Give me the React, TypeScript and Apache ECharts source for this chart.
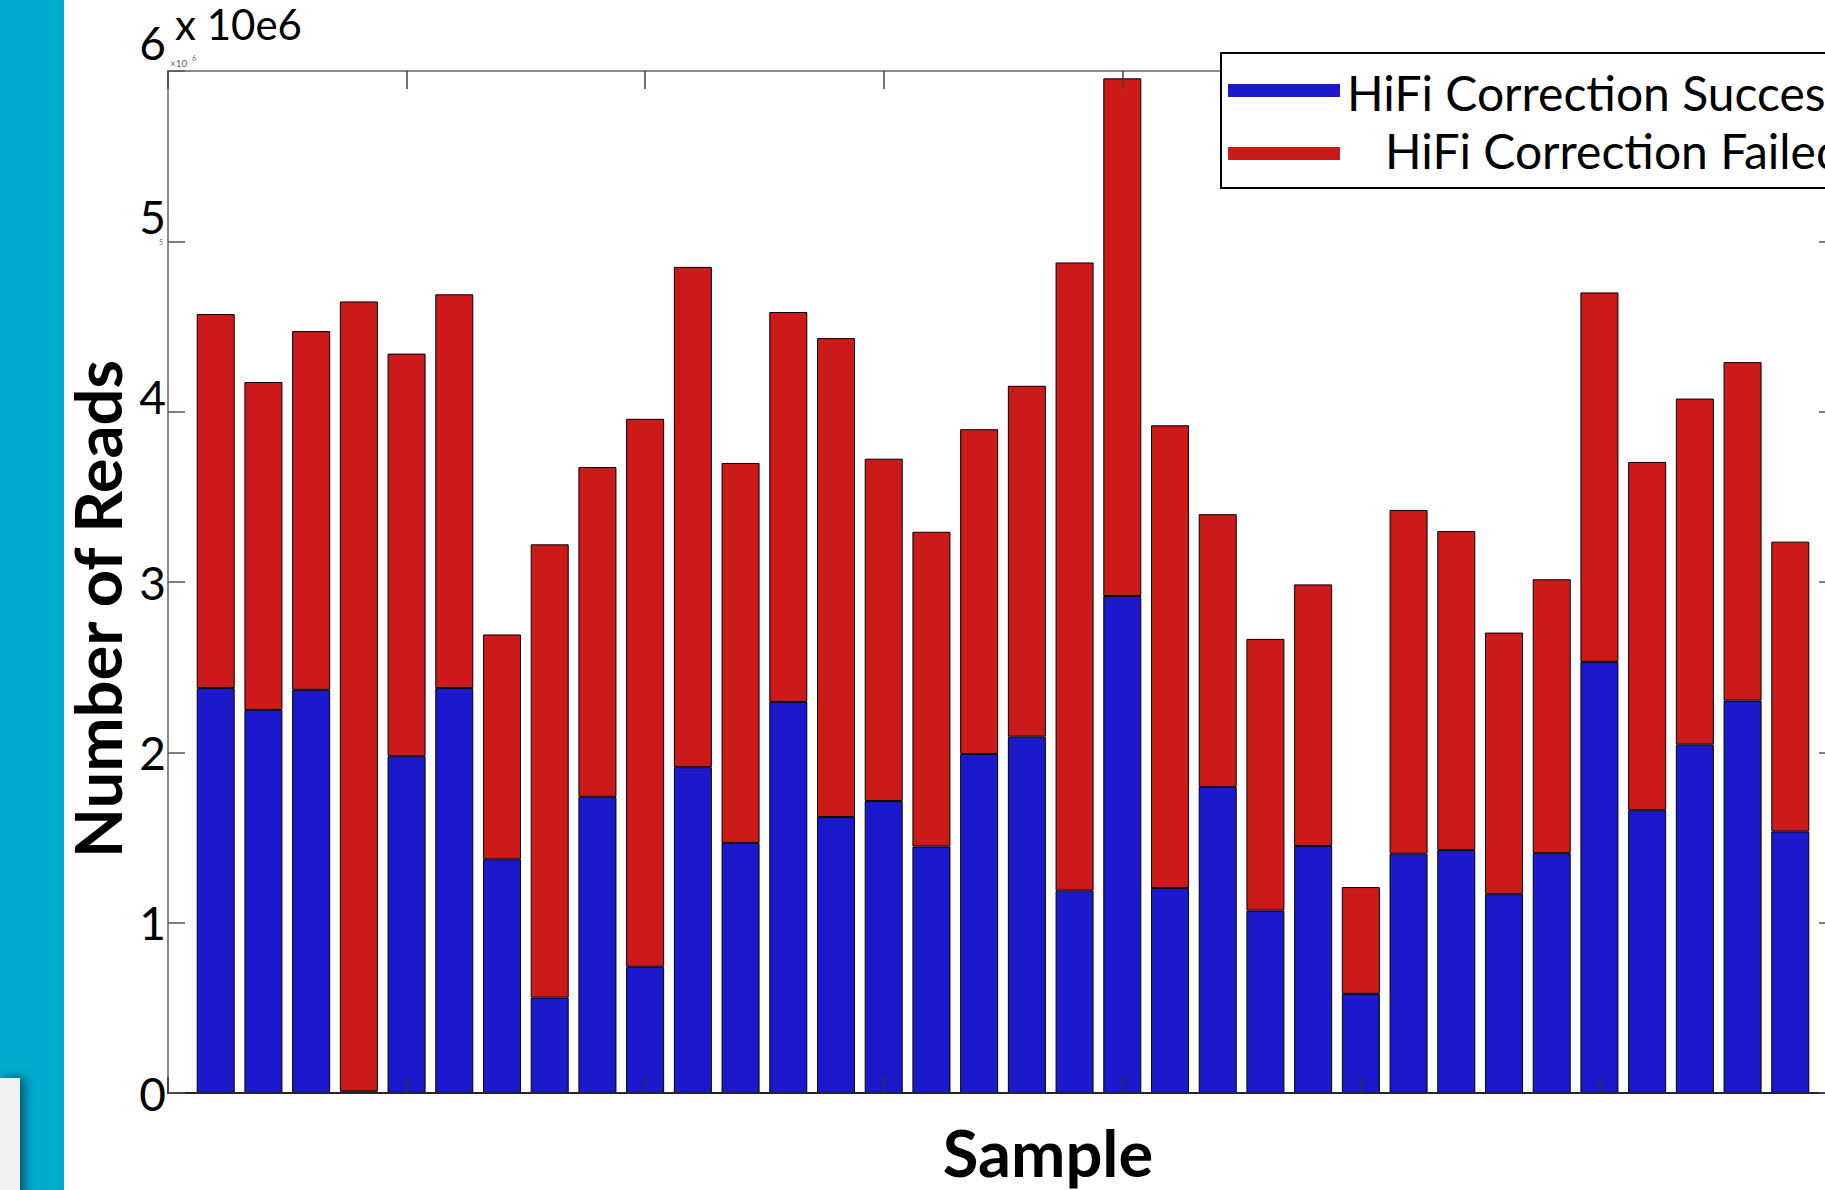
import React, { useEffect, useRef } from 'react';
import * as echarts from 'echarts';

// Sample index (x axis)
const samples = [1, 2, 3, 4, 5, 6, 7, 8, 9, 10, 11, 12, 13, 14, 15, 16, 17, 18, 19, 20, 21, 22, 23, 24, 25, 26, 27, 28, 29, 30, 31, 32, 33, 34];

// Reads whose HiFi correction succeeded
const successful = [
  2377000, 2248000, 2367000, 10000, 1977000, 2377000, 1372000, 560000, 1739000, 741000,
  1913000, 1468000, 2296000, 1620000, 1714000, 1447000, 1990000, 2092000, 1188000, 2918000,
  1203000, 1797000, 1071000, 1450000, 582000, 1405000, 1426000, 1167000, 1408000, 2531000,
  1660000, 2045000, 2304000, 1536000,
];

// Reads whose HiFi correction failed (stacked on top)
const failed = [
  2196000, 1926000, 2106000, 4637000, 2364000, 2312000, 1320000, 2661000, 1936000, 3217000,
  2937000, 2231000, 2289000, 2812000, 2010000, 1848000, 1907000, 2060000, 3688000, 3039000,
  2717000, 1601000, 1595000, 1536000, 627000, 2018000, 1873000, 1536000, 1608000, 2169000,
  2045000, 2032000, 1987000, 1701000,
];

const seriesNames = ['HiFi Correction Successful', 'HiFi Correction Failed'];
const xLimits = [0, 35];
const xTickEvery = 5;
const yMax = 6000000;
const yStep = 1000000;

const BLUE = '#1B19CB';
const RED = '#CC1A1B';

export default function App() {
  const ref = useRef<HTMLDivElement>(null);

  useEffect(() => {
    if (!ref.current) return;
    const chart = echarts.init(ref.current, null, { renderer: 'svg' });

    // axis positions xLimits[0] .. xLimits[1]; samples sit on their own index
    const categories = [String(xLimits[0]), ...samples.map(String), String(xLimits[1])];
    const pad = (arr: number[]) => ['-', ...arr, '-'];

    const labelFont = { fontFamily: 'Lato', fontSize: 46, color: '#000' };

    const xAxisBase = {
      type: 'category',
      data: categories,
      boundaryGap: false,
      z: 3,
      axisLabel: { show: false },
      splitLine: { show: false },
    };

    const option: any = {
      animation: false,
      backgroundColor: '#ffffff',
      grid: {
        left: 168,
        top: 71,
        right: 62,
        bottom: 97,
        containLabel: false,
        outerBoundsMode: 'none',
      },
      xAxis: [
        {
          ...xAxisBase,
          position: 'bottom',
          axisLine: { show: true, onZero: false, lineStyle: { color: '#262626', width: 2 } },
          axisTick: {
            show: true,
            inside: true,
            length: 16,
            interval: (i: number) => i % xTickEvery === 0,
            lineStyle: { color: '#333', width: 1.5 },
          },
        },
        {
          ...xAxisBase,
          position: 'top',
          axisLine: { show: true, onZero: false, lineStyle: { color: '#8a8a8a', width: 2 } },
          axisTick: {
            show: true,
            inside: true,
            length: 18,
            interval: (i: number) => i % xTickEvery === 0,
            lineStyle: { color: '#444', width: 1.5 },
          },
        },
      ],
      yAxis: [
        {
          type: 'value',
          position: 'left',
          min: 0,
          max: yMax,
          interval: yStep,
          z: 3,
          axisLine: { show: true, onZero: false, lineStyle: { color: '#8a8a8a', width: 2 } },
          axisTick: { show: true, inside: true, length: 17, lineStyle: { color: '#555', width: 1.5 } },
          splitLine: { show: false },
          axisLabel: {
            margin: 2,
            ...labelFont,
            formatter: (v: number) => {
              const n = Math.round(v / yStep);
              const key = n === 6 ? 'top' : n === 5 ? 'hi' : n === 4 ? 'mid' : 'n';
              return `{${key}|${n}}`;
            },
            rich: {
              top: { ...labelFont, padding: [0, 0, 58, 0] },
              hi: { ...labelFont, padding: [0, 0, 50, 0] },
              mid: { ...labelFont, padding: [0, 0, 30, 0] },
              n: { ...labelFont },
            },
          },
        },
        {
          type: 'value',
          position: 'right',
          min: 0,
          max: yMax,
          interval: yStep,
          z: 3,
          axisLine: { show: true, onZero: false, lineStyle: { color: '#8a8a8a', width: 2 } },
          axisTick: { show: true, inside: true, length: 19, lineStyle: { color: '#555', width: 1.5 } },
          axisLabel: { show: false },
          splitLine: { show: false },
        },
      ],
      series: [
        {
          name: seriesNames[0],
          type: 'bar',
          stack: 'reads',
          xAxisIndex: 0,
          yAxisIndex: 0,
          barWidth: 38,
          itemStyle: { color: BLUE, borderColor: '#000', borderWidth: 1 },
          data: pad(successful),
        },
        {
          name: seriesNames[1],
          type: 'bar',
          stack: 'reads',
          xAxisIndex: 0,
          yAxisIndex: 0,
          barWidth: 38,
          itemStyle: { color: RED, borderColor: '#000', borderWidth: 1 },
          data: pad(failed),
        },
      ],
      graphic: [
        { type: 'rect', z: 1, shape: { x: 0, y: 0, width: 64, height: 1190 }, style: { fill: '#00ABCD' } },
        {
          type: 'rect',
          z: 2,
          shape: { x: 0, y: 1078, width: 20, height: 130 },
          style: { fill: '#F2F2F2', shadowBlur: 12, shadowColor: 'rgba(0,0,0,0.55)', shadowOffsetX: 4 },
        },
        {
          type: 'text',
          z: 5,
          x: 175,
          y: 24,
          style: { text: 'x 10e6', font: '42px Lato', fill: '#000', textAlign: 'left', textVerticalAlign: 'middle' },
        },
        {
          type: 'text',
          z: 5,
          x: 170,
          y: 63,
          style: { text: '×10', font: '10px Lato', fill: '#666', textAlign: 'left', textVerticalAlign: 'middle' },
        },
        {
          type: 'text',
          z: 5,
          x: 192,
          y: 58,
          style: { text: '6', font: '7px Lato', fill: '#666', textAlign: 'left', textVerticalAlign: 'middle' },
        },
        {
          type: 'text',
          z: 5,
          x: 161,
          y: 242,
          style: { text: '5', font: '7px Lato', fill: '#666', textAlign: 'center', textVerticalAlign: 'middle' },
        },
        {
          type: 'text',
          z: 5,
          x: 97,
          y: 609,
          rotation: Math.PI / 2,
          style: {
            text: 'Number of Reads',
            font: 'bold 65px Lato',
            fill: '#000',
            textAlign: 'center',
            textVerticalAlign: 'middle',
          },
        },
        {
          type: 'text',
          z: 5,
          x: 1048,
          y: 1152,
          style: {
            text: 'Sample',
            font: 'bold 65px Lato',
            lineHeight: 64,
            fill: '#000',
            textAlign: 'center',
            textVerticalAlign: 'middle',
          },
        },
        {
          type: 'group',
          z: 20,
          children: [
            {
              type: 'rect',
              z: 20,
              shape: { x: 1221, y: 53, width: 720, height: 135 },
              style: { fill: '#fff', stroke: '#000', lineWidth: 2 },
            },
            { type: 'rect', z: 21, shape: { x: 1228, y: 84, width: 112, height: 13 }, style: { fill: BLUE } },
            { type: 'rect', z: 21, shape: { x: 1228, y: 147, width: 112, height: 13 }, style: { fill: RED } },
            {
              type: 'text',
              z: 21,
              x: 1347,
              y: 92,
              style: { text: seriesNames[0], font: '48px Lato', fill: '#000', textAlign: 'left', textVerticalAlign: 'middle' },
            },
            {
              type: 'text',
              z: 21,
              x: 1385,
              y: 150,
              style: { text: seriesNames[1], font: '48px Lato', fill: '#000', textAlign: 'left', textVerticalAlign: 'middle' },
            },
          ],
        },
      ],
    };

    chart.setOption(option);
    return () => chart.dispose();
  }, []);

  return (
    <div style={{ position: 'fixed', left: 0, top: 0, width: 1825, height: 1190, overflow: 'hidden', background: '#fff' }}>
      <div ref={ref} style={{ width: 1900, height: 1190 }} />
    </div>
  );
}
